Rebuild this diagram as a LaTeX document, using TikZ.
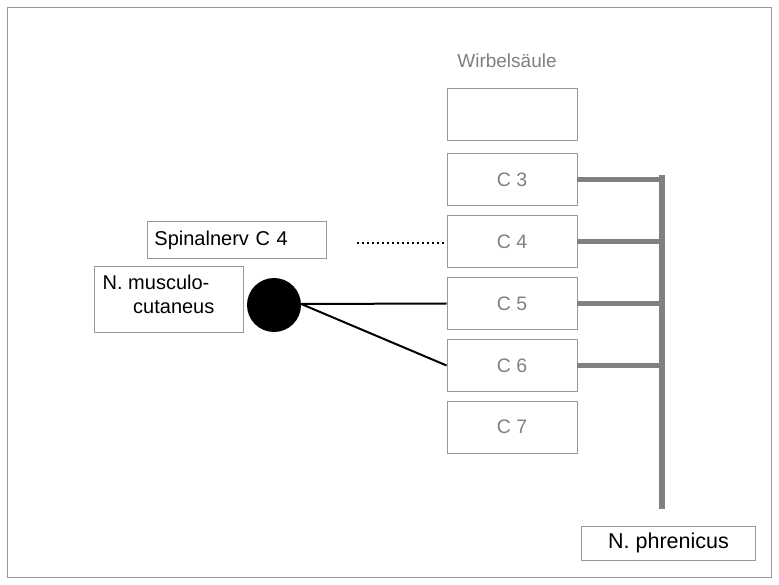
\documentclass[tikz,border=0pt]{standalone}
\usepackage{fontspec}
\setmainfont{Liberation Sans}
\begin{document}
\begin{tikzpicture}[x=1pt,y=-1pt,
  vbox/.style={draw=gray!80, line width=0.9pt, minimum width=130pt, minimum height=52pt, inner sep=0pt, text=gray, font=\fontsize{19.5}{22}\selectfont},
  lbox/.style={draw=gray!80, line width=0.9pt, inner sep=0pt, text=black, font=\fontsize{20}{22}\selectfont},
  bar/.style={draw=gray, line width=5pt},
  nerve/.style={draw=black, line width=2pt}]
\useasboundingbox (0,0) rectangle (779,585);
\draw[gray!80, line width=0.9pt] (7,7) rectangle (771,577);
\node[text=gray, font=\fontsize{19}{22}\selectfont] (ws) at (507,61) {Wirbelsäule};
\node[vbox] (b0) at (512,114) {};
\node[vbox] (c3) at (512,179.5) {C 3};
\node[vbox] (c4) at (512,241.5) {C 4};
\node[vbox] (c5) at (512,303.5) {C 5};
\node[vbox] (c6) at (512,365.5) {C 6};
\node[vbox] (c7) at (512,427) {C 7};
\coordinate (top) at (662,175);
\coordinate (bot) at (662,509);
\draw[draw=gray, line width=6pt] (top) -- (bot);
\foreach \n in {c3,c4,c5,c6} {
  \draw[bar] (\n.east) -- (\n.east -| top);
}
\node[lbox, minimum width=174pt, minimum height=34pt, font=\fontsize{21.5}{24}\selectfont] (phr) at (668.5,543) {N. phrenicus};
\node[lbox, minimum width=179pt, minimum height=37pt, anchor=west, text width=174pt, align=left] (sp) at (146.5,240) {\hspace*{5pt}Spinalnerv C 4};
\coordinate (dotl) at (357,243.5);
\draw[black, line width=2pt, dash pattern=on 2pt off 3pt] (dotl) -- (dotl -| c4.west);
\node[lbox, minimum width=149pt, minimum height=66pt] (mc) at (168.5,299.5) {};
\node[font=\fontsize{20}{22}\selectfont, anchor=base west, inner sep=0pt] (mc1) at (102.5,290) {N. musculo-};
\node[font=\fontsize{20}{22}\selectfont, anchor=base west, inner sep=0pt] (mc2) at (133,313) {cutaneus};
\node[circle, fill=black, minimum size=54pt, inner sep=0pt] (dot) at (274,305) {};
\draw[nerve] (dot.east) ++(0,-1) coordinate (j) (j) -- (c5.west);
\draw[nerve] (j) -- (c6.west);
\end{tikzpicture}
\end{document}
